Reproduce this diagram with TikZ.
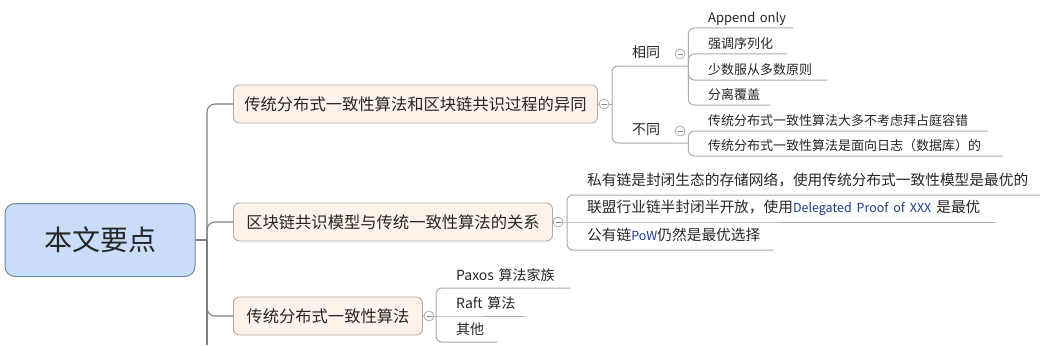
\documentclass[tikz,border=0pt]{standalone}
\usepackage{fontspec}
\setmainfont{Noto Sans CJK SC}
\definecolor{rootfill}{RGB}{201,220,248}
\definecolor{rootline}{RGB}{112,134,173}
\definecolor{topicfill}{RGB}{253,243,234}
\definecolor{topicline}{RGB}{179,170,163}
\definecolor{trunkline}{RGB}{128,128,128}
\definecolor{twigline}{RGB}{170,170,170}
\definecolor{foldmark}{RGB}{110,130,184}
\definecolor{ink}{RGB}{38,38,38}
\definecolor{latin}{RGB}{30,60,140}
\newcommand{\lat}[1]{{\fontsize{12.5}{14}\selectfont\color{latin}#1}}

\begin{document}
\begin{tikzpicture}[x=1pt,y=-1pt,
  rootbox/.style={rectangle,rounded corners=10pt,draw=rootline,fill=rootfill,line width=1pt,minimum width=190pt,minimum height=73pt,text=ink,font=\fontsize{28}{30}\selectfont},
  topic/.style={rectangle,rounded corners=6pt,draw=topicline,fill=topicfill,line width=.9pt,minimum width=#1,minimum height=38pt,anchor=west,text=ink,font=\fontsize{16.3}{18}\selectfont},
  fold/.style={circle,draw=twigline,fill=white,minimum size=10pt,inner sep=0pt,line width=.8pt,
    path picture={\draw[foldmark,line width=.8pt] ([xshift=-2.5pt]path picture bounding box.center) -- ([xshift=2.5pt]path picture bounding box.center);}},
  leaf/.style={anchor=south west,inner sep=0pt,align=left,text width=#1,text=ink,execute at begin node=\hspace*{20pt}},
  notea/.style={font=\fontsize{13}{15}\selectfont,text depth=5pt},
  noteb/.style={font=\fontsize{14}{16}\selectfont,text depth=8.7pt},
  notec/.style={font=\fontsize{14.7}{16}\selectfont,text depth=9.4pt},
  noted/.style={font=\fontsize{14}{16}\selectfont,text depth=7.4pt},
  trunk/.style={draw=trunkline,line width=1.1pt,rounded corners=8pt},
  twig/.style={draw=twigline,line width=1pt,rounded corners=6pt}]
  \useasboundingbox (0,0) rectangle (1040,345);

  \node[rootbox] (root) at (100,240) {本文要点};
  \coordinate (hub) at (207,240);
  \coordinate (tail) at (207,345);

  \node[topic=364pt] (b1) at (233,104) {传统分布式一致性算法和区块链共识过程的异同};
  \node[topic=319pt] (b2) at (233,222) {区块链共识模型与传统一致性算法的关系};
  \node[topic=189pt] (b3) at (233,316) {传统分布式一致性算法};

  \node[fold] (f1) at (604,104) {};
  \node[fold] (f2) at (558,222) {};
  \node[fold] (f3) at (429,316) {};
  \coordinate (v1) at (612,104);
  \coordinate (v2) at (567,222);
  \coordinate (v3) at (436,316);

  % 异同
  \node[leaf=76pt,noteb] (same) at (612,66) {相同};
  \node[leaf=76pt,noteb] (diff) at (612,143) {不同};
  \node[fold] (fs) at (680,54) {};
  \node[fold] (fd) at (680,131) {};
  \node[leaf=105pt,notea] (s1) at (688,28) {Append only};
  \node[leaf=99pt,notea] (s2) at (688,54) {强调序列化};
  \node[leaf=139pt,notea] (s3) at (688,80) {少数服从多数原则};
  \node[leaf=82pt,notea] (s4) at (688,105) {分离覆盖};
  \node[leaf=300pt,notea] (d1) at (688,131) {传统分布式一致性算法大多不考虑拜占庭容错};
  \node[leaf=315pt,notea] (d2) at (688,156) {传统分布式一致性算法是面向日志（数据库）的};

  % 关系
  \node[leaf=473pt,notec] (r1) at (567,195) {私有链是封闭生态的存储网络，使用传统分布式一致性模型是最优的};
  \node[leaf=428pt,notec] (r2) at (567,222) {联盟行业链半封闭半开放，使用\lat{Delegated Proof of XXX} 是最优};
  \node[leaf=206pt,notec] (r3) at (567,250) {公有链\lat{PoW}仍然是最优选择};

  % 算法
  \node[leaf=134pt,noted] (a1) at (436,288) {Paxos 算法家族};
  \node[leaf=89pt,noted] (a2) at (436,316) {Raft 算法};
  \node[leaf=61pt,noted] (a3) at (436,342) {其他};

  \draw[trunk] (root.east) -- (hub);
  \draw[trunk] (hub) |- (b1.west);
  \draw[trunk] (hub) |- (b2.west);
  \draw[trunk] (hub) |- (b3.west);
  \draw[trunk] (hub) -- (tail);

  \draw[twig] (b1.east) -- (f1.west);
  \draw[twig] (f1.east) -- (v1);
  \draw[twig] (v1) |- (same.south east);
  \draw[twig] (v1) |- (diff.south east);
  \foreach \n in {s1,s2,s3,s4}
    \draw[twig] (same.south east) |- (\n.south east);
  \foreach \n in {d1,d2}
    \draw[twig] (diff.south east) |- (\n.south east);

  \draw[twig] (b2.east) -- (f2.west);
  \draw[twig] (f2.east) -- (v2) -- (r2.south east);
  \draw[twig] (v2) |- (r1.south east);
  \draw[twig] (v2) |- (r3.south east);

  \draw[twig] (b3.east) -- (f3.west);
  \draw[twig] (f3.east) -- (v3) -- (a2.south east);
  \draw[twig] (v3) |- (a1.south east);
  \draw[twig] (v3) |- (a3.south east);
\end{tikzpicture}
\end{document}
